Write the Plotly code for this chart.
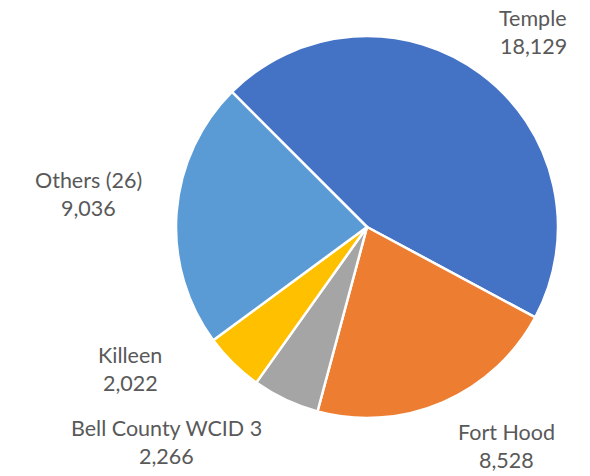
import plotly.graph_objects as go

# Data
labels = ["Temple", "Fort Hood", "Bell County WCID 3", "Killeen", "Others (26)"]
values = [18129, 8528, 2266, 2022, 9036]
colors = ["#4472C4", "#ED7D31", "#A5A5A5", "#FFC000", "#5B9BD5"]

OFF = 8  # page body margin
W, H = 590 - OFF, 476 - OFF
cx, cy, r = 367 - OFF, 227 - OFF, 191

fig = go.Figure(go.Pie(
    labels=labels,
    values=values,
    sort=False,
    direction="clockwise",
    rotation=-45,
    marker=dict(colors=colors, line=dict(color="white", width=2.5)),
    textinfo="none",
    hoverinfo="label+value",
    showlegend=False,
    domain=dict(x=[(cx - r) / W, (cx + r) / W], y=[(H - cy - r) / H, (H - cy + r) / H]),
))

# label positions (pixel centers of the first text line, in page pixels)
label_pos = {
    "Temple": (533, 18),
    "Fort Hood": (506, 432),
    "Bell County WCID 3": (167, 428),
    "Killeen": (130, 355),
    "Others (26)": (88, 180),
}
annotations = []
font = dict(family="Lato, Open Sans, sans-serif", size=21.5, color="#595959")
for lab, val in zip(labels, values):
    x, y = label_pos[lab]
    for i, txt in enumerate([lab, f"{val:,}"]):
        annotations.append(dict(
            x=(x - OFF) / W, y=1 - (y - OFF + i * 28) / H, xref="paper", yref="paper",
            text=txt, showarrow=False, xanchor="center", yanchor="middle", font=font,
        ))

fig.update_layout(
    width=W, height=H,
    margin=dict(l=0, r=0, t=0, b=0),
    paper_bgcolor="white",
    annotations=annotations,
)
fig.write_html("out.html")
